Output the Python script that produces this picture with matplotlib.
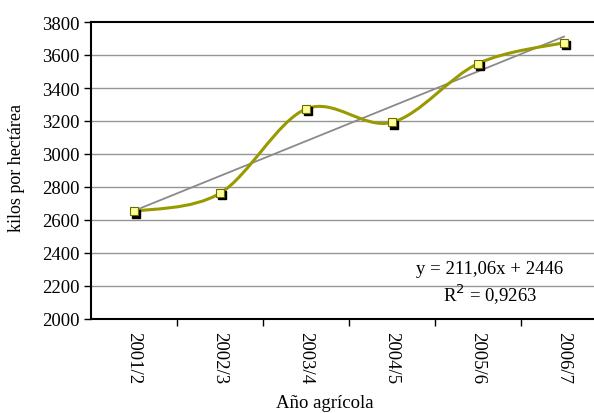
import numpy as np
import matplotlib
matplotlib.use("Agg")
import matplotlib.pyplot as plt
from matplotlib.path import Path
from matplotlib.patches import PathPatch
import matplotlib.transforms as mtransforms

categories = ["2001/2", "2002/3", "2003/4", "2004/5", "2005/6", "2006/7"]
values = [2652, 2762, 3273, 3192, 3548, 3675]
y_ticks = [2000, 2200, 2400, 2600, 2800, 3000, 3200, 3400, 3600, 3800]
equation_text = "y = 211,06x + 2446"
r2_text = "R$^2$ = 0,9263"

plt.rcParams['font.family'] = ['Liberation Serif', 'DejaVu Serif']

fig = plt.figure(figsize=(5.94, 4.14), dpi=100)
W, H = 594, 414
ax = fig.add_axes([91 / W, (414 - 320) / H, 516 / W, 297 / H])

x = np.arange(1, len(categories) + 1)
y = np.array(values, dtype=float)

# gridlines
for t in y_ticks[1:-1]:
    ax.axhline(t, color="#959595", lw=1.0, zorder=1)

# smoothed line (Bezier through points, Catmull-Rom control points)
pts = np.column_stack([x, y])
ext = np.vstack([pts[0], pts, pts[-1]])
verts = [tuple(pts[0])]
codes = [Path.MOVETO]
for i in range(len(pts) - 1):
    p0, p1, p2, p3 = ext[i], ext[i + 1], ext[i + 2], ext[i + 3]
    c1 = p1 + (p2 - p0) / 6.0
    c2 = p2 - (p3 - p1) / 6.0
    verts += [tuple(c1), tuple(c2), tuple(p2)]
    codes += [Path.CURVE4] * 3
ax.add_patch(PathPatch(Path(verts, codes), fill=False, edgecolor="#999900",
                       lw=2.2, zorder=3, capstyle="round", joinstyle="round"))

# trend line
coef = np.polyfit(x, y, 1)
ax.plot(x, np.polyval(coef, x), color="#8a8a8a", lw=1.3, zorder=2)

# markers with shadow
shadow = mtransforms.offset_copy(ax.transData, fig=fig, x=1.6, y=-1.6, units="points")
ax.plot(x, y, ls="none", marker="s", ms=5.5, mfc="black", mec="black",
        transform=shadow, zorder=4)
ax.plot(x, y, ls="none", marker="s", ms=5.5, mfc="#ffff99", mec="#6b6b00",
        mew=0.8, zorder=5)

ax.set_xlim(0.5, 6.5)
ax.set_ylim(2000, 3800)
ax.set_yticks(y_ticks)
ax.set_yticklabels([str(t) for t in y_ticks], fontsize=13.5)
ax.set_xticks(x)
ax.set_xticklabels(categories, rotation=270, fontsize=13.5)
ax.set_xticks(np.arange(1.5, 6.5, 1), minor=True)
ax.tick_params(axis="x", which="major", length=0, pad=9)
ax.tick_params(axis="x", which="minor", length=5, width=1, color="black", direction="out")
ax.tick_params(axis="y", length=5, width=1, direction="out", pad=3)

for s in ["left", "bottom", "top"]:
    ax.spines[s].set_color("black")
    ax.spines[s].set_linewidth(1.5)
ax.spines["right"].set_visible(False)

fig.text(17 / W, 1 - 168 / H, "kilos por hectárea", fontsize=13, rotation=90,
         ha="center", va="center")
fig.text(325 / W, 1 - 404 / H, "Año agrícola", fontsize=13.5, ha="center", va="center")

fig.text(490 / W, 1 - 270 / H, equation_text, fontsize=13.5, ha="center", va="center")
fig.text(490 / W, 1 - 295 / H, r2_text, fontsize=13.5, ha="center", va="center")

fig.savefig("out.png", dpi=100)
